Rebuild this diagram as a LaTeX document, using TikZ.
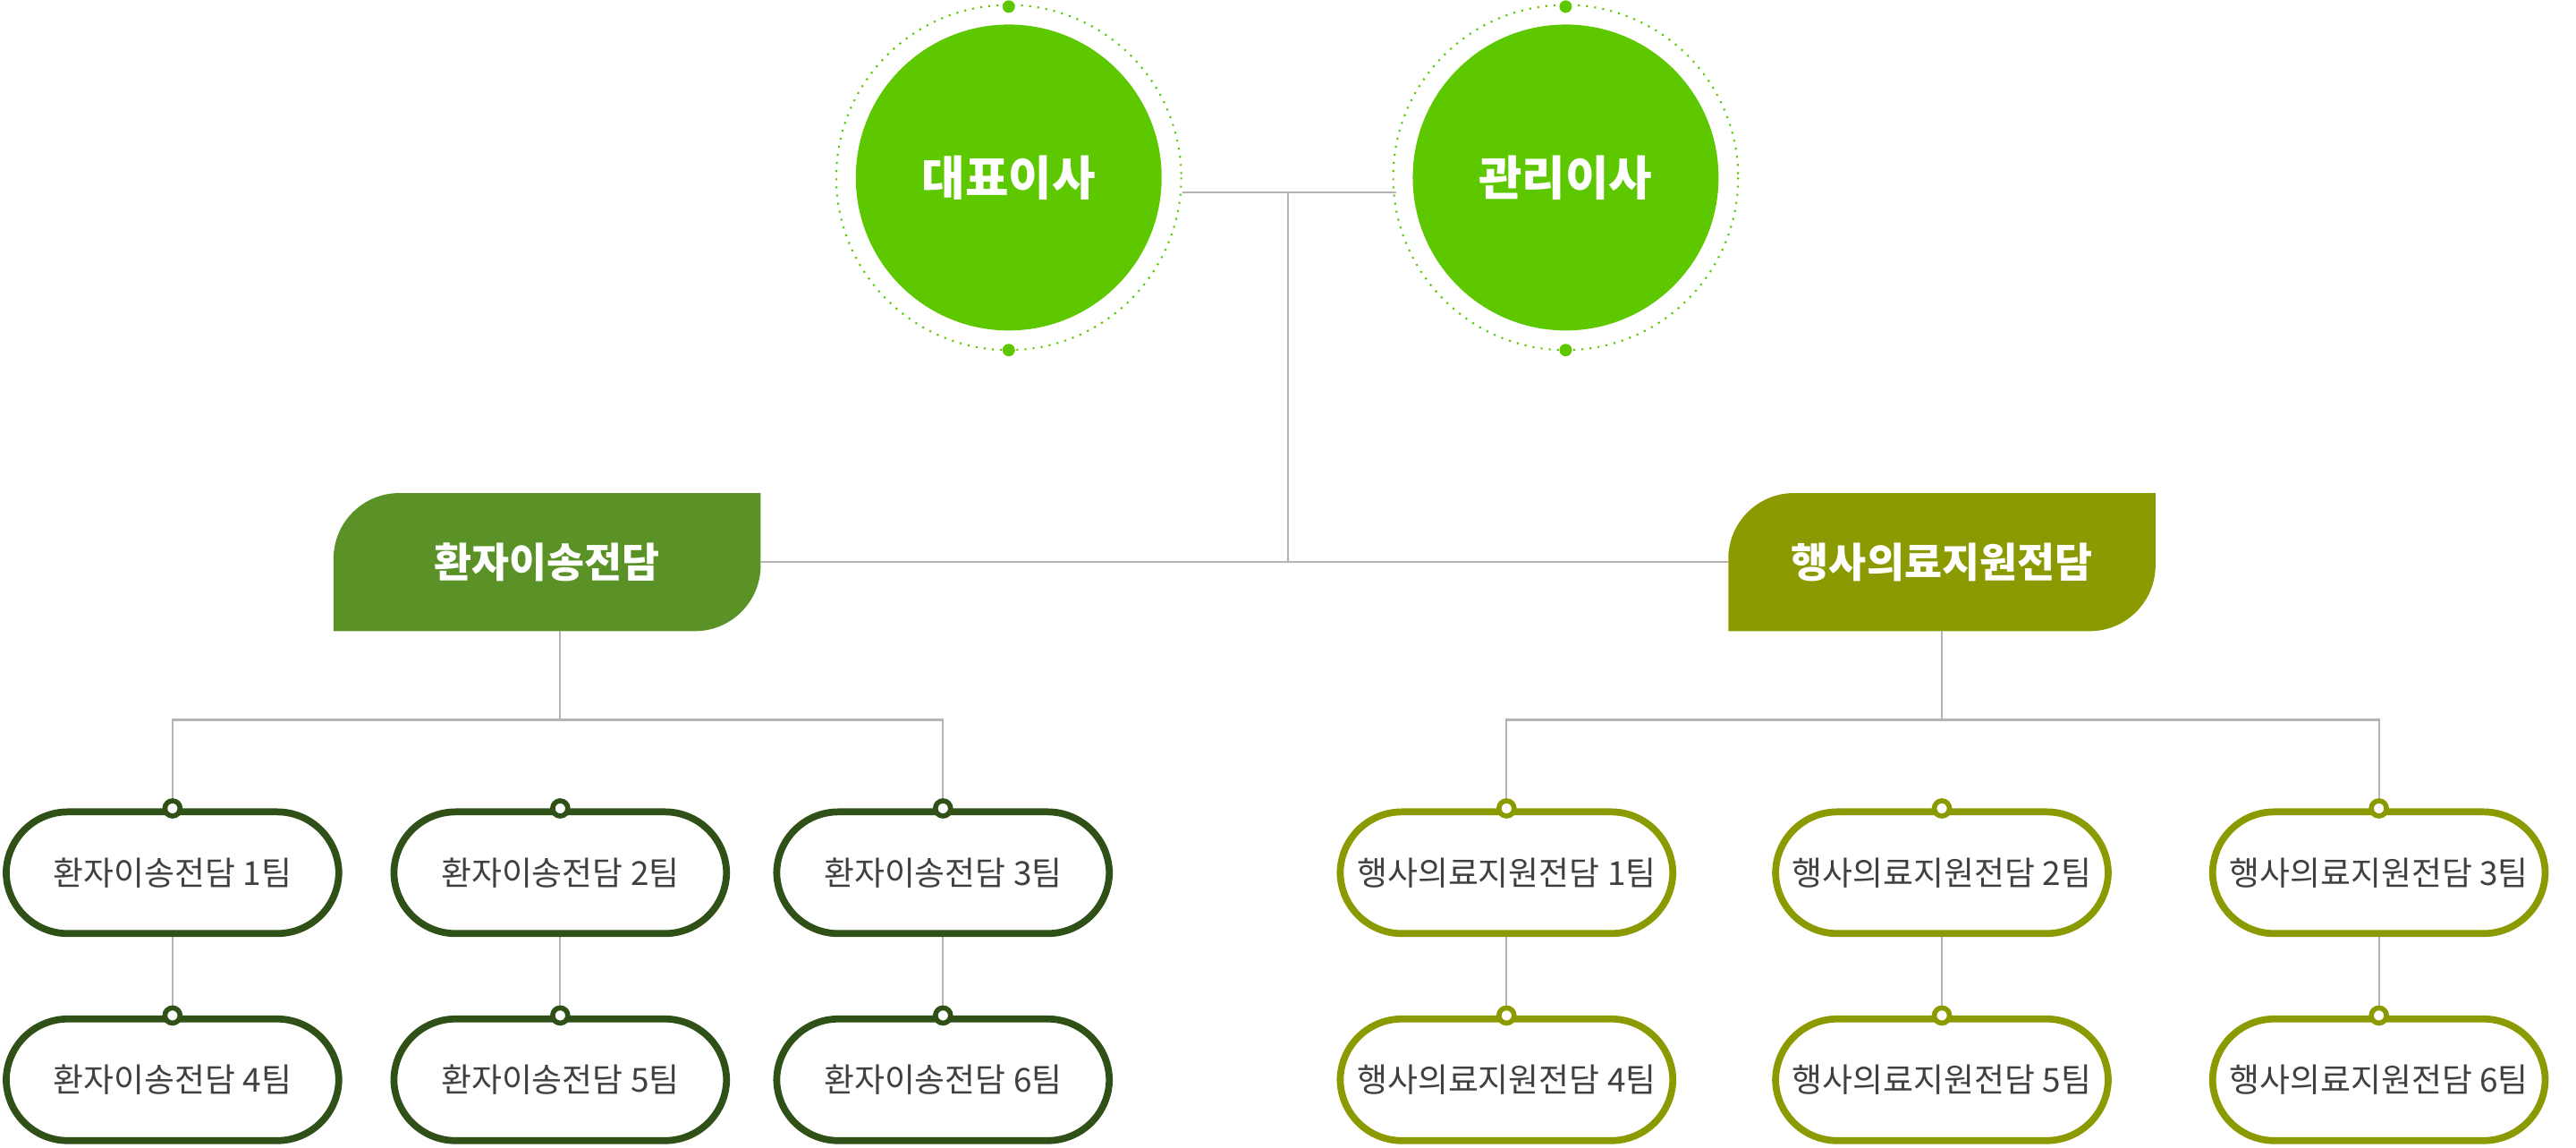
\documentclass[tikz,border=0pt]{standalone}
\usepackage{fontspec}
\setmainfont{Noto Sans CJK KR}
\usetikzlibrary{positioning}
\definecolor{topgreen}{HTML}{5DC800}
\definecolor{leftgreen}{HTML}{5A9228}
\definecolor{rightolive}{HTML}{8A9A00}
\definecolor{darkgreen}{HTML}{2F5016}
\definecolor{linegray}{HTML}{B4B4B4}
\begin{document}
\begin{tikzpicture}[x=0.018367cm, y=-0.018367cm,
    boss/.style={circle, fill=topgreen, minimum size=3.42cm, text=white, font=\fontsize{15}{18}\selectfont\bfseries},
    ring/.style={draw=topgreen, dotted, line width=0.6pt},
    leaf/.style={draw=#1, line width=2.2pt, fill=white, rounded corners=0.69cm, minimum width=3.72cm, minimum height=1.36cm, text=black!75, font=\fontsize{10.5}{12}\selectfont},
    knob/.style={circle, draw=#1, fill=white, line width=1.6pt, inner sep=0pt, minimum size=0.17cm},
    link/.style={draw=linegray, line width=0.6pt}]
    \useasboundingbox (0,0) rectangle (1568,698);

    % Directors
    \node[boss] (ceo) at (614,108) {대표이사};
    \node[boss] (cmo) at (953,108) {관리이사};
    \foreach \x in {614, 953} {
        \draw[ring] (\x,108) circle (105);
        \fill[topgreen] (\x,4) circle (3.8) (\x,213) circle (3.8);
    }

    % Department heads
    \fill[leftgreen] (203,384) -- (203,340) arc (180:270:40) -- (463,300) -- (463,344) arc (0:90:40) -- cycle;
    \node[text=white, font=\fontsize{13}{16}\selectfont\bfseries] (dept1) at (333,342) {환자이송전담};
    \fill[rightolive] (1052,384) -- (1052,340) arc (180:270:40) -- (1312,300) -- (1312,344) arc (0:90:40) -- cycle;
    \node[text=white, font=\fontsize{13}{16}\selectfont\bfseries] (dept2) at (1182,342) {행사의료지원전담};

    % Connectors at the top
    \coordinate (hub) at (784,117);
    \coordinate (mid) at (784,342);
    \draw[link] (720,117) -- (850,117);
    \draw[link] (hub) -- (mid);
    \draw[link] (463,342) -- (1052,342);

    % Teams
    \foreach \d/\col/\dname/\xa/\xb/\xc in {1/darkgreen/환자이송전담/105/341/574, 2/rightolive/행사의료지원전담/917/1182/1448} {
        \coordinate (bar\d) at (\xb,438);
        \draw[link] (\xb,384) -- (bar\d);
        \draw[link] (\xa,494) -- (\xa,438) -- (\xc,438) -- (\xc,494);
        \foreach \x/\i/\j in {\xa/1/4, \xb/2/5, \xc/3/6} {
            \draw[link] (\x,531) -- (\x,657);
            \node[leaf=\col] (t\d\i) at (\x,531) {\dname{} {\i}팀};
            \node[leaf=\col] (t\d\j) at (\x,657) {\dname{} {\j}팀};
            \node[knob=\col] at (t\d\i.north) {};
            \node[knob=\col] at (t\d\j.north) {};
        }
    }
\end{tikzpicture}
\end{document}
